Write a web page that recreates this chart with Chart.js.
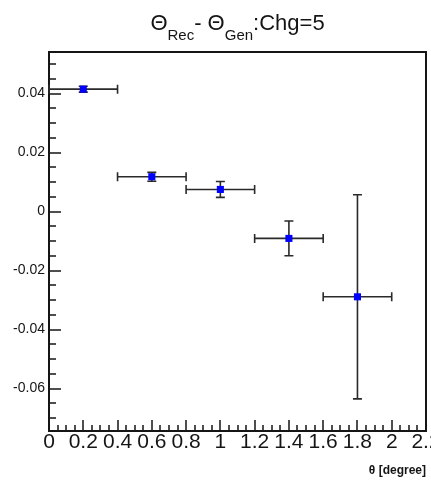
<!DOCTYPE html>
<html>
<head>
<meta charset="utf-8">
<title>Theta resolution vs theta</title>
<script src="https://cdn.jsdelivr.net/npm/chart.js@4"></script>
<style>
  html, body { margin: 0; padding: 0; background: #ffffff; }
  #c { display: block; }
</style>
</head>
<body>
<canvas id="c" width="431" height="480"></canvas>
<script>
// Bin centres in theta [degree] and their half widths
const thetaBins = [0.2, 0.6, 1.0, 1.4, 1.8];
const binHalfWidth = [0.2, 0.2, 0.2, 0.2, 0.2];
// Mean of Theta_Rec - Theta_Gen per bin and its uncertainty
const meanDiff = [0.0415, 0.0118, 0.0075, -0.0091, -0.0289];
const meanDiffErr = [0.0010, 0.0015, 0.0027, 0.0059, 0.0346];

// Axis ranges and tick labels
const xRange = [0, 2.2];
const yRange = [-0.0744, 0.0541];
const xTickValues = [0, 0.2, 0.4, 0.6, 0.8, 1.0, 1.2, 1.4, 1.6, 1.8, 2.0, 2.2];
const xTickLabels = ['0', '0.2', '0.4', '0.6', '0.8', '1', '1.2', '1.4', '1.6', '1.8', '2', '2.2'];
const yTickValues = [-0.06, -0.04, -0.02, 0, 0.02, 0.04];
const yTickLabels = ['-0.06', '-0.04', '-0.02', '0', '0.02', '0.04'];
const xMinorStep = 0.05, xMinorPerMajor = 4;
const yMinorStep = 0.005, yMinorPerMajor = 4;

const FONT = "'Liberation Sans', Arial, Helvetica, sans-serif";
const INK = '#151515';

// Frame box and inward-pointing tick marks
const frameAndTicks = {
  id: 'frameAndTicks',
  beforeDatasetsDraw(chart) {
    const { ctx, chartArea: a, scales: { x, y } } = chart;
    ctx.save();
    ctx.strokeStyle = INK;
    ctx.lineWidth = 1.5;
    ctx.beginPath();
    const nx = Math.round((xRange[1] - xRange[0]) / xMinorStep);
    for (let i = 0; i <= nx; i++) {
      const v = xRange[0] + i * xMinorStep;
      const px = Math.round(x.getPixelForValue(v));
      const len = (i % xMinorPerMajor === 0) ? 11 : 6;
      ctx.moveTo(px, a.bottom);
      ctx.lineTo(px, a.bottom - len);
    }
    const iy0 = Math.ceil(yRange[0] / yMinorStep - 1e-9);
    const iy1 = Math.floor(yRange[1] / yMinorStep + 1e-9);
    for (let i = iy0; i <= iy1; i++) {
      const py = Math.round(y.getPixelForValue(i * yMinorStep));
      const len = (((i % yMinorPerMajor) + yMinorPerMajor) % yMinorPerMajor === 0) ? 12 : 7;
      ctx.moveTo(a.left, py);
      ctx.lineTo(a.left + len, py);
    }
    ctx.stroke();
    ctx.lineWidth = 2;
    ctx.strokeRect(a.left, a.top, a.right - a.left, a.bottom - a.top);
    ctx.restore();
  }
};

// Horizontal (bin width) and vertical (uncertainty) error bars with end caps
const errorBars = {
  id: 'errorBars',
  beforeDatasetsDraw(chart) {
    const { ctx, scales: { x, y } } = chart;
    const cap = 4.5;
    ctx.save();
    ctx.strokeStyle = '#2a2a2a';
    ctx.lineWidth = 1.6;
    thetaBins.forEach((t, i) => {
      const px = x.getPixelForValue(t);
      const py = y.getPixelForValue(meanDiff[i]);
      const x0 = x.getPixelForValue(t - binHalfWidth[i]);
      const x1 = x.getPixelForValue(t + binHalfWidth[i]);
      const y0 = y.getPixelForValue(meanDiff[i] - meanDiffErr[i]);
      const y1 = y.getPixelForValue(meanDiff[i] + meanDiffErr[i]);
      ctx.beginPath();
      ctx.moveTo(x0, py); ctx.lineTo(x1, py);
      ctx.moveTo(px, y0); ctx.lineTo(px, y1);
      ctx.moveTo(x0, py - cap); ctx.lineTo(x0, py + cap);
      ctx.moveTo(x1, py - cap); ctx.lineTo(x1, py + cap);
      ctx.moveTo(px - cap, y0); ctx.lineTo(px + cap, y0);
      ctx.moveTo(px - cap, y1); ctx.lineTo(px + cap, y1);
      ctx.stroke();
    });
    ctx.restore();
  }
};

// Title with subscripts: Θ_Rec - Θ_Gen:Chg=5
const titleParts = [
  { text: 'Θ', sub: false },
  { text: 'Rec', sub: true },
  { text: '- Θ', sub: false },
  { text: 'Gen', sub: true },
  { text: ':Chg=5', sub: false }
];
const subTitle = {
  id: 'subTitle',
  afterDraw(chart) {
    const { ctx, chartArea: a } = chart;
    const mainFont = '22px ' + FONT, subFont = '15px ' + FONT;
    const baseY = 29.5, subY = 39.5;
    ctx.save();
    ctx.fillStyle = INK;
    ctx.textBaseline = 'alphabetic';
    ctx.textAlign = 'left';
    let total = 0;
    const widths = titleParts.map(p => {
      ctx.font = p.sub ? subFont : mainFont;
      const w = ctx.measureText(p.text).width;
      total += w;
      return w;
    });
    let cx = (a.left + a.right) / 2 - total / 2;
    titleParts.forEach((p, i) => {
      ctx.font = p.sub ? subFont : mainFont;
      ctx.fillText(p.text, cx, p.sub ? subY : baseY);
      cx += widths[i];
    });
    ctx.restore();
  }
};

Chart.defaults.font.family = FONT;
Chart.defaults.color = INK;

new Chart(document.getElementById('c'), {
  type: 'scatter',
  data: {
    datasets: [{
      data: thetaBins.map((t, i) => ({ x: t, y: meanDiff[i] })),
      pointStyle: 'rect',
      pointRadius: 5,
      pointHoverRadius: 5,
      backgroundColor: '#0000ff',
      borderColor: '#0000ff',
      borderWidth: 0,
      showLine: false
    }]
  },
  options: {
    responsive: false,
    devicePixelRatio: 1,
    animation: false,
    events: [],
    layout: { padding: { left: 0, right: 2, top: 52, bottom: 0 } },
    plugins: {
      legend: { display: false },
      tooltip: { enabled: false },
      title: { display: false }
    },
    scales: {
      x: {
        type: 'linear',
        min: xRange[0],
        max: xRange[1],
        afterBuildTicks: s => { s.ticks = xTickValues.map(v => ({ value: v })); },
        afterFit: s => { s.height = 49; s.paddingLeft = 0; s.paddingRight = 0; },
        grid: { display: false, drawTicks: false },
        border: { display: false },
        ticks: {
          callback: (v, i) => xTickLabels[i],
          font: { size: 21, lineHeight: 1.1 },
          color: INK,
          padding: 0,
          autoSkip: false,
          maxRotation: 0,
          minRotation: 0
        },
        title: {
          display: true,
          text: 'θ [degree]',
          align: 'end',
          color: INK,
          font: { size: 12, weight: 'bold', lineHeight: 1.2 },
          padding: { top: 0, bottom: 2 }
        }
      },
      y: {
        type: 'linear',
        min: yRange[0],
        max: yRange[1],
        afterBuildTicks: s => { s.ticks = yTickValues.map(v => ({ value: v })); },
        afterFit: s => { s.width = 49; s.paddingTop = 0; s.paddingBottom = 0; },
        grid: { display: false, drawTicks: false },
        border: { display: false },
        ticks: {
          callback: (v, i) => yTickLabels[i],
          font: { size: 14 },
          color: INK,
          padding: 4,
          autoSkip: false
        }
      }
    }
  },
  plugins: [frameAndTicks, errorBars, subTitle]
});
</script>
</body>
</html>
